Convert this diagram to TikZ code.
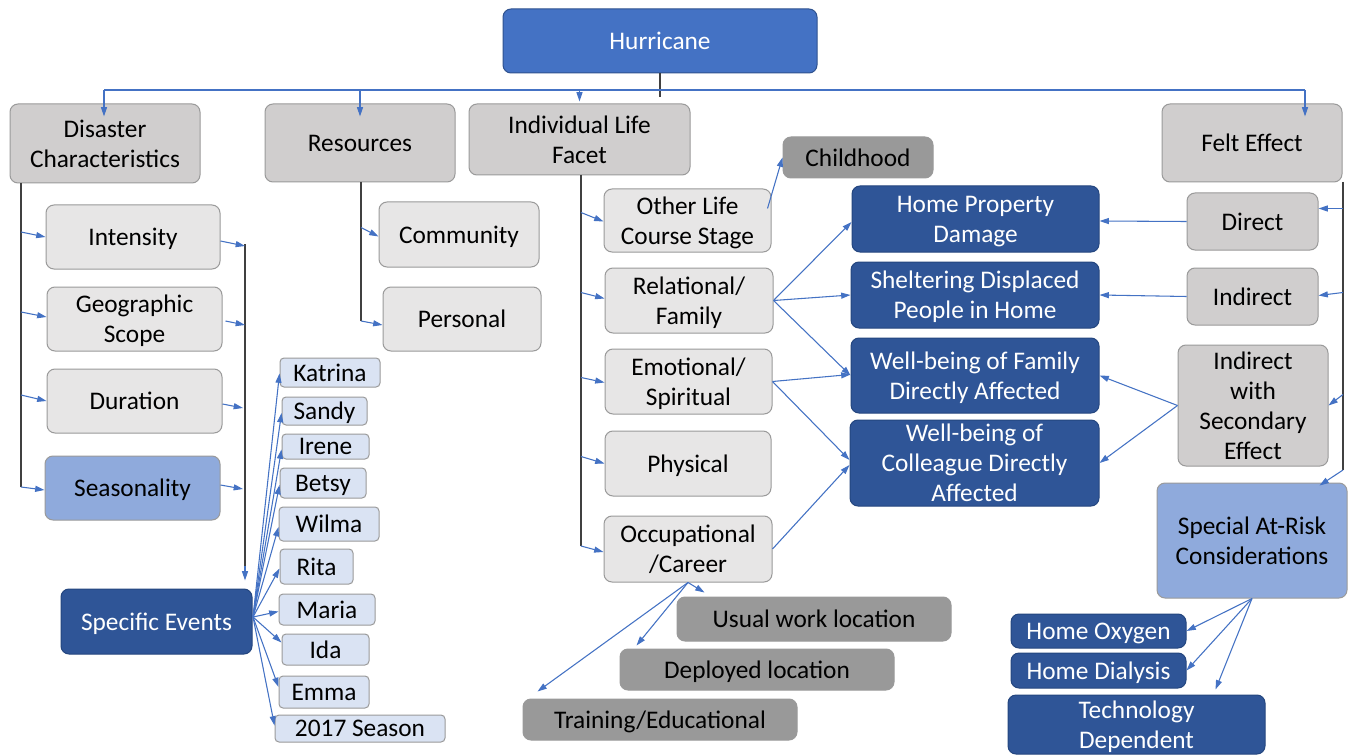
\documentclass[tikz,border=0pt]{standalone}
\usepackage{fontspec}
\setmainfont{Carlito}
\usetikzlibrary{arrows.meta,calc}
\definecolor{hurc}{HTML}{4472C4}
\definecolor{hurd}{HTML}{2F528F}
\definecolor{gone}{HTML}{D0CECE}
\definecolor{gtwo}{HTML}{E7E6E6}
\definecolor{gthree}{HTML}{999999}
\definecolor{gbord}{HTML}{9A9A9A}
\definecolor{dblue}{HTML}{2F5597}
\definecolor{dbord}{HTML}{24467F}
\definecolor{lblue}{HTML}{8FAADC}
\definecolor{eblue}{HTML}{DAE3F3}
\definecolor{arrc}{HTML}{4472C4}
\definecolor{linec}{HTML}{404040}
\newcommand\fs{\fontsize{19}{22.5}\selectfont}
\newcommand\bx[7]{\node[#2, minimum width={(#5-#3)*0.75pt}, minimum height={(#6-#4)*0.75pt}] (#1) at ({(#3+#5)/2},{(#4+#6)/2}) {#7};}
\begin{document}
\begin{tikzpicture}[x=0.75pt,y=-0.75pt,
  box/.style={rounded corners=6pt, draw, line width=0.75pt, align=center, inner sep=0pt, text depth=0pt, font=\fs},
  gA/.style={box, fill=gone, draw=gbord},
  gB/.style={box, fill=gtwo, draw=gbord},
  gC/.style={box, fill=gthree, draw=gbord},
  dbx/.style={box, fill=dblue, draw=dbord, text=white},
  lbx/.style={box, fill=lblue, draw=gbord},
  evx/.style={box, rounded corners=3pt, fill=eblue, draw=gbord},
  hurx/.style={box, fill=hurc, draw=hurd, text=white},
  arr/.style={draw=arrc, line width=0.8pt, -{Triangle[length=7pt,width=4.5pt]}},
  bl/.style={draw=arrc, line width=0.8pt},
  ln/.style={draw=linec, line width=0.8pt}]
\useasboundingbox (0,0) rectangle (1360,756);
\fill[white] (0,0) rectangle (1360,756);

% top
\bx{hur}{hurx}{503}{9}{817}{73}{Hurricane}
\bx{dis}{gA}{10}{104}{200}{183}{Disaster\\Characteristics}
\bx{res}{gA}{265}{104}{455}{182}{Resources}
\bx{ilf}{gA}{469}{104}{690}{175}{Individual Life\\Facet}
\bx{fe}{gA}{1162}{104}{1342}{182}{Felt Effect}

% disaster children
\bx{int}{gB}{46}{205}{220}{269}{Intensity}
\bx{geo}{gB}{47}{287}{222}{351}{Geographic\\Scope}
\bx{dur}{gB}{47}{369}{222}{433}{Duration}
\bx{sea}{lbx}{45}{456}{220}{520}{Seasonality}
\bx{spe}{dbx}{61}{589}{252}{654}{Specific Events}

% events
\bx{kat}{evx}{280}{358}{380}{387}{Katrina}
\bx{san}{evx}{282}{397}{367}{425}{Sandy}
\bx{ire}{evx}{282}{434}{369}{459}{Irene}
\bx{bet}{evx}{280}{468}{366}{498}{Betsy}
\bx{wil}{evx}{279}{507}{379}{541}{Wilma}
\bx{rit}{evx}{280}{549}{353}{584}{Rita}
\bx{mar}{evx}{279}{594}{375}{625}{Maria}
\bx{ida}{evx}{282}{634}{369}{665}{Ida}
\bx{emm}{evx}{279}{676}{369}{708}{Emma}
\bx{sev}{evx}{275}{715}{445}{742}{2017 Season}

% resources children
\bx{com}{gB}{379}{202}{539}{267}{Community}
\bx{per}{gB}{383}{287}{541}{351}{Personal}

% individual life facet children
\bx{oth}{gB}{604}{189}{771}{252}{Other Life\\Course Stage}
\bx{rel}{gB}{605}{268}{773}{333}{Relational/\\Family}
\bx{emo}{gB}{605}{349}{772}{414}{Emotional/\\Spiritual}
\bx{phy}{gB}{605}{431}{771}{496}{Physical}
\bx{occ}{gB}{604}{516}{772}{582}{Occupational\\/Career}
\bx{chi}{gC}{783}{137}{933}{178}{Childhood}
\bx{usu}{gC}{677}{597}{951}{641}{Usual work location}
\bx{dep}{gC}{620}{649}{894}{690}{Deployed location}
\bx{tra}{gC}{523}{699}{797}{740}{Training/Educational}

% effects
\bx{hpd}{dbx}{852}{186}{1099}{252}{Home Property\\Damage}
\bx{she}{dbx}{851}{262}{1099}{328}{Sheltering Displaced\\People in Home}
\bx{wbf}{dbx}{851}{338}{1099}{413}{Well-being of Family\\Directly Affected}
\bx{wbc}{dbx}{850}{420}{1099}{506}{Well-being of\\Colleague Directly\\Affected}

% felt effect children
\bx{dir}{gA}{1187}{193}{1318}{250}{Direct}
\bx{ind}{gA}{1187}{268}{1318}{325}{Indirect}
\bx{iws}{gA}{1178}{345}{1328}{466}{Indirect\\with\\Secondary\\Effect}
\bx{sar}{lbx}{1157}{483}{1347}{598}{Special At-Risk\\Considerations}
\bx{hox}{dbx}{1011}{614}{1186}{648}{Home Oxygen}
\bx{hdi}{dbx}{1011}{653}{1186}{688}{Home Dialysis}
\bx{tec}{dbx}{1008}{695}{1265}{754}{Technology\\Dependent}

% ---- connectors ----
% top bus
\coordinate (hbot) at (660,97);
\coordinate (hl) at (104,90);
\coordinate (hr) at (1305,90);
\draw[ln] (hur.south) -- (hbot);
\draw[bl] (hl) -- (hr);
\draw[arr] (hl) -- ($(hl |- dis.north)+(0,13)$);
\draw[arr] (hl -| res.north) -- ($(res.north)+(0,13)$);
\draw[arr] (hl -| ilf.north) -- ($(ilf.north)+(0,-2)$);
\draw[arr] (hr) -- ($(hr |- fe.north)+(0,13)$);

% disaster left
\coordinate (dl1) at (21,183);
\coordinate (dl2) at (21,487);
\draw[ln] (dl1) -- (dl2);
\draw[arr] ($(dl1 |- int.west)+(0,-5)$) -- (int.west);
\draw[arr] ($(dl1 |- geo.west)+(0,-7)$) -- ($(geo.west)+(0,-2)$);
\draw[arr] ($(dl1 |- dur.west)+(0,-6)$) -- (dur.west);
\draw[arr] (dl2) -- ($(sea.west)+(0,2)$);

% disaster right to specific events
\coordinate (el1) at (245,244);
\coordinate (el2) at (245,566);
\draw[ln] (el1) -- (el2);
\draw[arr] ($(int.east)+(0,4)$) -- ($(el1 |- int.east)+(0,9)$);
\draw[arr] ($(geo.east)+(3,2)$) -- ($(el1 |- geo.east)+(0,6)$);
\draw[arr] ($(dur.east)+(0,3)$) -- ($(el1 |- dur.east)+(-2,7)$);
\draw[arr] ($(sea.east)+(0,-3)$) -- ($(el1 |- sea.east)+(-2,1)$);
\draw[arr] (el2) -- ($(el2 |- spe.north)+(0,-8)$);

% specific events fan
\coordinate (src) at (253,617);
\foreach \n/\dy in {kat/1,san/2,ire/3,bet/2,wil/3,rit/2,mar/2,ida/-7,emm/-5,sev/-3}
  \draw[arr] (src) -- ($(\n.west)+(0,\dy)$);

% resources
\coordinate (rl1) at (361,182);
\coordinate (rl2) at (361,321);
\draw[ln] (rl1) -- (rl2);
\draw[arr] ($(rl1 |- com.west)+(0,-7)$) -- ($(com.west)+(0,2)$);
\draw[arr] (rl2) -- ($(per.west)+(0,6)$);

% individual life facet
\coordinate (il1) at (581,175);
\coordinate (il2) at (581,546);
\draw[ln] (il1) -- (il2);
\draw[arr] ($(il1 |- oth.west)+(0,-8)$) -- ($(oth.west)+(0,1)$);
\draw[arr] ($(il1 |- rel.west)+(0,-8)$) -- ($(rel.west)+(0,-2)$);
\draw[arr] ($(il1 |- emo.west)+(0,-4)$) -- ($(emo.west)+(0,1)$);
\draw[arr] ($(il1 |- phy.west)+(0,-7)$) -- (phy.west);
\draw[arr] (il2) -- ($(occ.west)+(0,3)$);
\draw[arr] ($(oth.east)+(-4,-12)$) -- (chi.west);

% to effects
\draw[arr] (rel.east) -- ($(hpd.west)+(0,3)$);
\draw[arr] (rel.east) -- (she.west);
\draw[arr] (rel.east) -- (wbf.west);
\draw[arr] (emo.east) -- ($(wbf.west)+(0,-1)$);
\draw[arr] (emo.east) -- ($(wbc.west)+(0,-3)$);
\draw[arr] (occ.east) -- ($(wbc.west)+(0,2)$);

% occupational subtypes
\draw[arr] (occ.south) -- ($(usu.north west)+(28,-4)$);
\draw[arr] (occ.south) -- ($(dep.north west)+(17,-3)$);
\draw[arr] (occ.south) -- ($(tra.north west)+(15,-7)$);

% felt effect
\coordinate (fl1) at (1343,182);
\coordinate (fl2) at (1343,470);
\draw[ln] (fl1) -- (fl2);
\draw[arr] ($(fl1 |- dir.east)+(0,-13)$) -- ($(dir.east)+(0,-13)$);
\draw[arr] ($(fl1 |- ind.east)+(0,-4)$) -- ($(ind.east)+(0,-1)$);
\draw[arr] ($(fl1 |- iws.east)+(0,-11)$) -- (iws.east);
\draw[arr] (fl2) -- ($(sar.north east)+(-28,3)$);
\draw[arr] (dir.west) -- ($(hpd.east)+(0,2)$);
\draw[arr] (ind.west) -- (she.east);
\draw[arr] (iws.west) -- (wbf.east);
\draw[arr] (iws.west) -- (wbc.east);

% special at-risk
\draw[arr] (sar.south) -- (hox.east);
\draw[arr] (sar.south) -- (hdi.east);
\draw[arr] (sar.south) -- ($(tec.north east)+(-50,-5)$);
\end{tikzpicture}
\end{document}
